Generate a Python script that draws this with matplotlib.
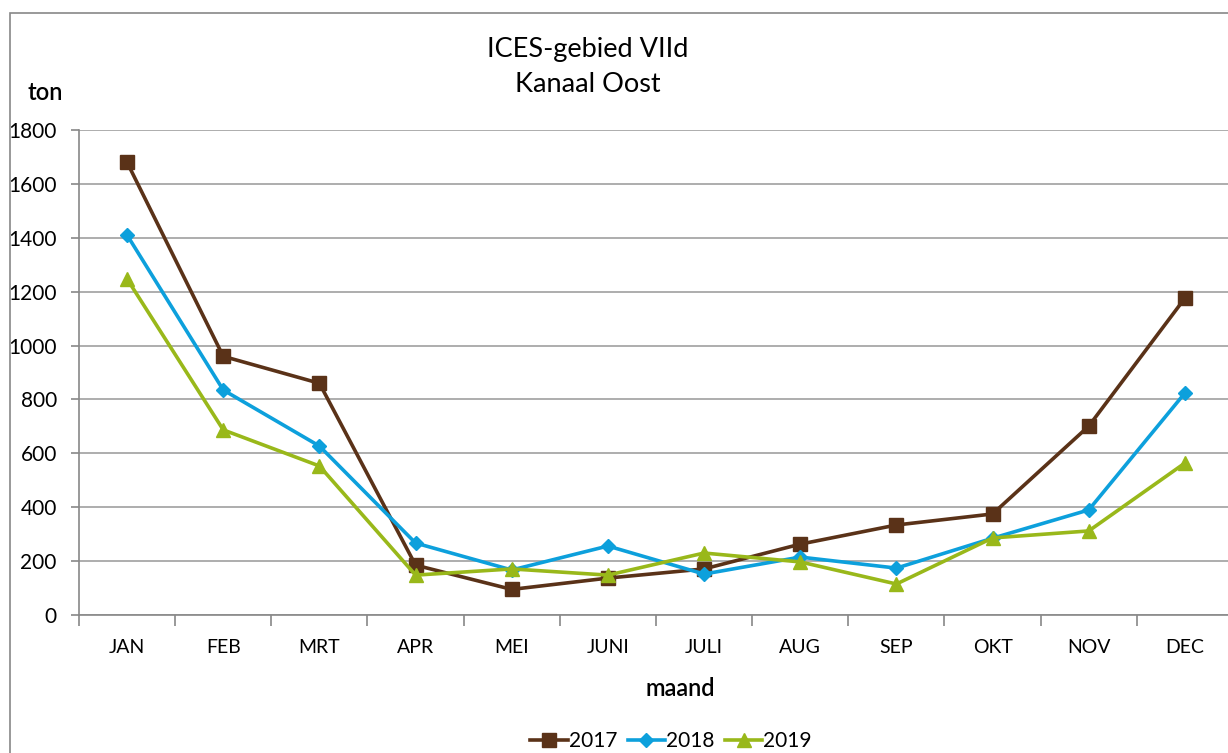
import matplotlib
matplotlib.use("Agg")
import matplotlib.pyplot as plt
from matplotlib.patches import Rectangle

months = ["JAN", "FEB", "MRT", "APR", "MEI", "JUNI", "JULI", "AUG", "SEP", "OKT", "NOV", "DEC"]
v2017 = [1680, 960, 860, 185, 95, 137, 171, 263, 334, 375, 701, 1176]
v2018 = [1410, 835, 627, 267, 167, 256, 152, 215, 174, 285, 390, 824]
v2019 = [1247, 687, 553, 148, 171, 148, 230, 197, 115, 286, 312, 564]
yticks = [0, 200, 400, 600, 800, 1000, 1200, 1400, 1600, 1800]

plt.rcParams['font.family'] = ['Lato', 'DejaVu Sans']

W, H = 1228, 753
fig = plt.figure(figsize=(W / 100, H / 100), dpi=100)

# outer frame
fig.patches.append(Rectangle((10 / W, -0.1), 1.2, 1 - 13 / H + 0.1, transform=fig.transFigure,
                             fill=False, edgecolor='#888888', linewidth=1.2))

ax = fig.add_axes([79 / W, 1 - 615 / H, (1233 - 79) / W, (615 - 130) / H])
x = list(range(len(months)))

ax.plot(x, v2017, color='#5a3218', linewidth=2.6, marker='s', markersize=9.5, label='2017')
ax.plot(x, v2018, color='#0da0dc', linewidth=2.6, marker='D', markersize=7, label='2018')
ax.plot(x, v2019, color='#99b81a', linewidth=2.6, marker='^', markersize=9.5, label='2019')

ax.set_xlim(-0.5, len(months) - 0.5)
ax.set_ylim(0, 1800)
ax.set_yticks(yticks)
ax.set_yticklabels([str(t) for t in yticks], fontsize=15)
ax.yaxis.grid(True, color='#a0a0a0', linewidth=1.2)
ax.set_axisbelow(True)

ax.set_xticks(x)
ax.set_xticklabels(months, fontsize=14)
ax.tick_params(axis='x', which='major', length=0, pad=17)
ax.set_xticks([i + 0.5 for i in range(-1, len(months))], minor=True)
ax.tick_params(axis='x', which='minor', length=8, color='#888888', width=1.2)
ax.tick_params(axis='y', length=6, color='#888888', width=1.2, pad=10)

for s in ['top', 'right']:
    ax.spines[s].set_visible(False)
for s in ['left', 'bottom']:
    ax.spines[s].set_color('#888888')
    ax.spines[s].set_linewidth(1.2)

fig.text(588 / W, 1 - 50 / H, "ICES-gebied VIId", ha='center', va='center', fontsize=19.5)
fig.text(588 / W, 1 - 85 / H, "Kanaal Oost", ha='center', va='center', fontsize=19.5)
fig.text(45 / W, 1 - 93 / H, "ton", ha='center', va='center', fontsize=17, fontweight='semibold')
fig.text(680 / W, 1 - 688 / H, "maand", ha='center', va='center', fontsize=17, fontweight='semibold')

fig.legend(loc='center', bbox_to_anchor=(671 / W, 1 - 741 / H), ncol=3, frameon=False,
           fontsize=15, handlelength=1.8, handletextpad=0.05, columnspacing=0.5)

fig.savefig("out.png", dpi=100)
